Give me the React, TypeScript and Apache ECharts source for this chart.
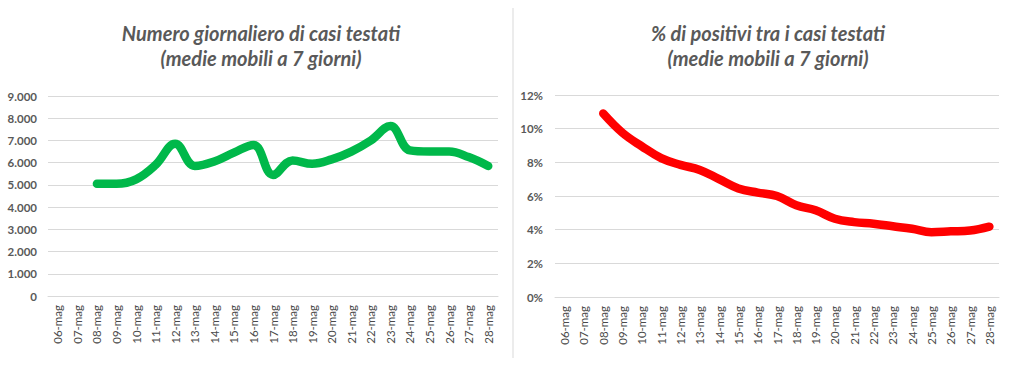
import React, { useEffect, useRef } from "react";
import * as echarts from "echarts";

const categories = ["06-mag","07-mag","08-mag","09-mag","10-mag","11-mag","12-mag","13-mag","14-mag","15-mag","16-mag","17-mag","18-mag","19-mag","20-mag","21-mag","22-mag","23-mag","24-mag","25-mag","26-mag","27-mag","28-mag"];
const testedCases = [null, null, 5050, 5050, 5250, 5900, 6850, 5850, 6050, 6450, 6800, 5450, 6100, 5950, 6150, 6500, 7000, 7650, 6550, 6500, 6500, 6250, 5850];
const positiveShare = [null, null, 10.9, 9.75, 8.95, 8.25, 7.85, 7.55, 7.0, 6.45, 6.2, 6.0, 5.45, 5.15, 4.65, 4.45, 4.35, 4.2, 4.05, 3.85, 3.9, 3.95, 4.18];
const leftTitle = "Numero giornaliero di casi testati\n(medie mobili a 7 giorni)";
const rightTitle = "% di positivi tra i casi testati\n(medie mobili a 7 giorni)";

const FONT = "Lato, 'Open Sans', sans-serif";
const GRAY = "#595959";

export default function App() {
  const ref = useRef<HTMLDivElement>(null);
  useEffect(() => {
    if (!ref.current) return;
    const chart = echarts.init(ref.current, null, { renderer: "svg" });
    const xAxisCommon = {
      type: "category" as const,
      data: categories,
      boundaryGap: true,
      axisLine: { show: true, lineStyle: { color: "#d9d9d9" } },
      axisTick: { show: false },
      axisLabel: { rotate: 90, interval: 0, color: "#4a4a4a", fontSize: 11.5, fontFamily: FONT, margin: 9 },
    };
    const yCommon = {
      type: "value" as const,
      axisLine: { show: false },
      axisTick: { show: false },
      splitLine: { lineStyle: { color: "#d9d9d9", width: 1 } },
    };
    const titleStyle = { fontFamily: FONT, fontSize: 20, fontStyle: "italic", fontWeight: "bold", color: GRAY, lineHeight: 25 };
    chart.setOption({
      animation: false,
      title: [
        { text: leftTitle, left: 256, top: 15, textAlign: "center", textStyle: titleStyle },
        { text: rightTitle, left: 763, top: 15, textAlign: "center", textStyle: titleStyle },
      ],
      graphic: [
        { type: "line", shape: { x1: 513, y1: 8, x2: 513, y2: 358 }, style: { stroke: "#d9d9d9", lineWidth: 1 } },
      ],
      grid: [
        { left: 48, top: 96, width: 450, height: 200 },
        { left: 555, top: 95, width: 444, height: 202 },
      ],
      xAxis: [
        { ...xAxisCommon, gridIndex: 0 },
        { ...xAxisCommon, gridIndex: 1 },
      ],
      yAxis: [
        { ...yCommon, gridIndex: 0, min: 0, max: 9000, interval: 1000,
          axisLabel: { color: GRAY, fontSize: 11.5, fontWeight: "bold", fontFamily: FONT, margin: 11,
            formatter: (v: number) => v === 0 ? "0" : v.toLocaleString("it-IT").replace(/,/g, ".") } },
        { ...yCommon, gridIndex: 1, min: 0, max: 12, interval: 2,
          axisLabel: { color: GRAY, fontSize: 11.5, fontWeight: "bold", fontFamily: FONT, margin: 12,
            formatter: (v: number) => v + "%" } },
      ],
      series: [
        { type: "line", xAxisIndex: 0, yAxisIndex: 0, data: testedCases, smooth: 0.4, showSymbol: false,
          lineStyle: { color: "#00b84a", width: 8.5, cap: "round", join: "round" } },
        { type: "line", xAxisIndex: 1, yAxisIndex: 1, data: positiveShare, smooth: 0.4, showSymbol: false,
          lineStyle: { color: "#ff0000", width: 8.5, cap: "round", join: "round" } },
      ],
    });
    return () => chart.dispose();
  }, []);
  return <div ref={ref} style={{ position: "fixed", left: 0, top: 0, width: 1014, height: 369, background: "#fff" }} />;
}
